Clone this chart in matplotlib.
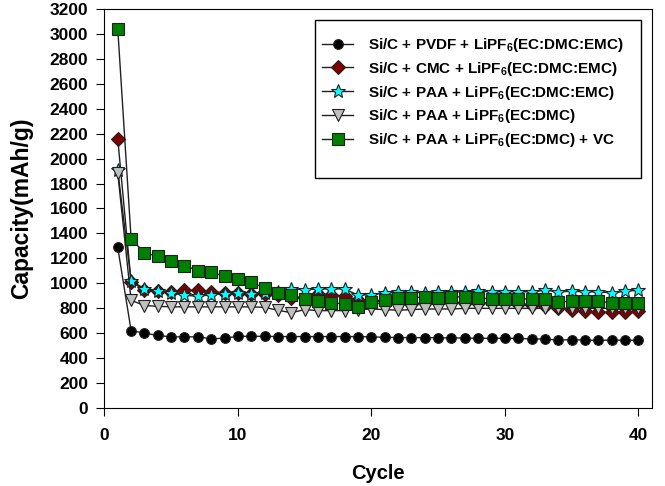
import matplotlib
matplotlib.use("Agg")
import matplotlib.pyplot as plt
from matplotlib.patches import Rectangle

plt.rcParams['font.family'] = ['Liberation Sans', 'DejaVu Sans']
plt.rcParams['font.weight'] = 'bold'
plt.rcParams['mathtext.default'] = 'regular'

cycles = list(range(1, 41))

pvdf = [1288, 622, 602, 583, 572, 572, 572, 556, 561, 576,
        576, 576, 574, 574, 574, 574, 574, 574, 574, 572,
        568, 566, 566, 565, 565, 563, 563, 560, 560, 560,
        560, 555, 555, 545, 550, 545, 545, 545, 545, 545]
cmc = [2157, 1010, 950, 940, 935, 945, 945, 935, 925, 920,
       915, 915, 905, 880, 890, 916, 910, 897, 870, 865,
       845, 840, 836, 844, 848, 848, 845, 842, 845, 842,
       838, 830, 822, 805, 785, 778, 770, 770, 770, 775]
paa_emc = [1905, 1020, 958, 942, 924, 905, 897, 908, 918, 924,
           918, 924, 935, 956, 950, 956, 956, 956, 905, 910,
           924, 929, 929, 924, 929, 935, 929, 937, 933, 933,
           933, 933, 945, 933, 937, 933, 933, 924, 937, 945]
paa_dmc = [1885, 865, 822, 817, 812, 812, 812, 812, 812, 812,
           812, 808, 785, 765, 790, 782, 782, 782, 790, 795,
           790, 785, 790, 795, 795, 795, 800, 800, 800, 800,
           800, 800, 800, 800, 800, 800, 800, 800, 800, 800]
paa_vc = [3040, 1358, 1245, 1218, 1178, 1143, 1103, 1089, 1057, 1036,
          1009, 964, 924, 905, 876, 857, 844, 836, 812, 849,
          870, 884, 884, 892, 884, 892, 892, 884, 876, 876,
          876, 876, 876, 852, 857, 857, 857, 844, 844, 844]

labels = ['Si/C + PVDF + LiPF$_6$(EC:DMC:EMC)',
          'Si/C + CMC + LiPF$_6$(EC:DMC:EMC)',
          'Si/C + PAA + LiPF$_6$(EC:DMC:EMC)',
          'Si/C + PAA + LiPF$_6$(EC:DMC)',
          'Si/C + PAA + LiPF$_6$(EC:DMC) + VC']

series = [pvdf, cmc, paa_emc, paa_dmc, paa_vc]
styles = [dict(marker='o', mfc='black', ms=7),
          dict(marker='D', mfc='#800000', ms=7.5),
          dict(marker='*', mfc='#00FFFF', ms=10.5),
          dict(marker='v', mfc='#C0C0C0', ms=8),
          dict(marker='s', mfc='#008000', ms=8.5)]

fig = plt.figure(figsize=(6.65, 4.86), dpi=100)
ax = fig.add_axes([0.157, 0.16, 0.823, 0.822])

for vals, lab, st in zip(series, labels, styles):
    ax.plot(cycles, vals, color='#202020', lw=1, mec='#202020', mew=0.8,
            label=lab, **st)

ax.set_xlim(0, 41)
ax.set_ylim(0, 3200)
ax.set_xticks([0, 10, 20, 30, 40])
ax.set_yticks(range(0, 3201, 200))
ax.tick_params(direction='out', length=6, labelsize=12.5, top=False, right=False)
ax.tick_params(axis='y', pad=5.5)
ax.tick_params(axis='x', pad=8)
for lab in ax.get_xticklabels() + ax.get_yticklabels():
    lab.set_fontweight('bold')
ax.set_xlabel('Cycle', fontsize=14.5, fontweight='bold', labelpad=15)
ax.set_ylabel('Capacity(mAh/g)', fontsize=16.5, fontweight='bold', labelpad=12)

# legend frame box
ax.add_patch(Rectangle((0.384, 0.576), 0.596, 0.3955, transform=ax.transAxes,
                       facecolor='white', edgecolor='black', lw=1, zorder=4))
leg = ax.legend(loc='upper left', bbox_to_anchor=(0.398, 0.932), borderaxespad=0,
                fontsize=11, frameon=False, handlelength=2.0, labelspacing=0.38,
                borderpad=0, handletextpad=1.0)
leg.set_zorder(5)
for t in leg.get_texts():
    t.set_fontweight('bold')

fig.savefig('out.png', dpi=100)
